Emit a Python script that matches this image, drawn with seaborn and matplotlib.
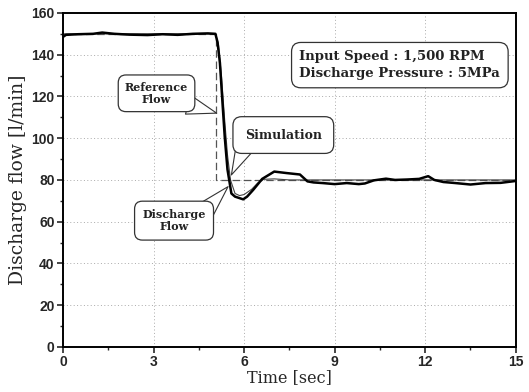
import matplotlib
matplotlib.use("Agg")
import matplotlib.pyplot as plt
import seaborn as sns
import pandas as pd
import numpy as np

# Measured discharge flow
t_dis = [0.0, 0.1, 0.5, 1.0, 1.3, 1.7, 2.2, 2.8, 3.3, 3.8, 4.3, 4.8, 5.05,
         5.12, 5.2, 5.28, 5.36, 5.45, 5.58, 5.7, 5.97, 6.1, 6.3, 6.6, 7.0,
         7.4, 7.85, 8.1, 8.3, 8.6, 9.0, 9.4, 9.8, 10.0, 10.3, 10.7, 11.0,
         11.4, 11.8, 12.1, 12.3, 12.6, 13.0, 13.5, 14.0, 14.5, 15.0]
q_dis = [148.5, 149.5, 149.8, 150.0, 150.6, 150.0, 149.6, 149.4, 149.8, 149.5,
         150.0, 150.2, 150.0,
         146.0, 136.0, 118.0, 100.5, 85.0, 73.5, 72.0, 70.7, 72.0, 75.2, 80.5,
         84.0, 83.3, 82.6, 79.3, 78.8, 78.5, 78.0, 78.5, 78.0, 78.3,
         79.8, 80.6, 80.0, 80.2, 80.5, 81.8, 80.0, 79.0, 78.5, 77.8, 78.5,
         78.6, 79.5]

# Simulation
t_sim = [0.0, 5.05, 5.15, 5.25, 5.35, 5.45, 5.55, 5.7, 5.85, 6.0, 6.25, 6.45,
         6.65, 7.0, 7.5, 15.0]
q_sim = [150.0, 150.0, 145.0, 130.0, 110.0, 92.0, 80.0, 73.5, 72.5, 73.0, 75.5,
         78.5, 80.3, 80.5, 80.0, 80.0]

# Reference flow
t_ref = [0.0, 5.07, 5.07, 15.0]
q_ref = [150.0, 150.0, 80.0, 80.0]

x_ticks = [0, 3, 6, 9, 12, 15]
y_ticks = [0, 20, 40, 60, 80, 100, 120, 140, 160]

sns.set_style("ticks")
fig = plt.figure(figsize=(5.29, 3.92), dpi=100)
ax = fig.add_axes([0.119, 0.115, 0.856, 0.852])

ax.grid(True, which="major", color="#aaaaaa", linestyle=(0, (1, 2.5)), linewidth=0.7)

df_ref = pd.DataFrame({"t": t_ref, "q": q_ref})
df_sim = pd.DataFrame({"t": t_sim, "q": q_sim})
df_dis = pd.DataFrame({"t": t_dis, "q": q_dis})

sns.lineplot(data=df_ref, x="t", y="q", ax=ax, color="#555555", linewidth=0.9,
             sort=False, estimator=None)
ax.lines[-1].set_dashes([6, 3])
sns.lineplot(data=df_sim, x="t", y="q", ax=ax, color="#444444", linewidth=0.8,
             sort=False, estimator=None)
sns.lineplot(data=df_dis, x="t", y="q", ax=ax, color="black", linewidth=1.8,
             sort=False, estimator=None)

ax.set_xlim(0, 15)
ax.set_ylim(0, 160)
ax.set_xticks(x_ticks)
ax.set_yticks(y_ticks)
ax.set_xticks(np.arange(0, 15.01, 1.5), minor=True)
ax.set_yticks(np.arange(0, 160.1, 10), minor=True)
ax.tick_params(axis="both", which="major", direction="out", length=4, width=1.2,
               labelsize=10, pad=2)
ax.tick_params(axis="both", which="minor", direction="out", length=2.5, width=1.0)
for lab in ax.get_xticklabels() + ax.get_yticklabels():
    lab.set_fontweight("bold")
    lab.set_family("Liberation Sans")
for s in ax.spines.values():
    s.set_visible(True)
    s.set_linewidth(1.4)
    s.set_color("black")

ax.set_xlabel("Time [sec]", family="DejaVu Serif", fontsize=11.5, labelpad=0)
ax.set_ylabel("Discharge flow [l/min]", family="DejaVu Serif", fontsize=13.5, labelpad=3)

font = dict(family="DejaVu Serif", fontweight="bold", color="#222222")

def box(pad):
    return dict(boxstyle=f"round,pad={pad},rounding_size=0.7", fc="white",
                ec="#333333", lw=0.9)

def pointer(base, tip):
    ax.annotate("", xy=tip, xytext=base, zorder=4,
                arrowprops=dict(arrowstyle="wedge,tail_width=1.0,shrink_factor=0.5",
                                fc="white", ec="#333333", lw=0.8, shrinkA=0,
                                shrinkB=0, mutation_scale=14))

pointer((4.15, 116.0), (5.09, 112))
pointer((6.05, 96.5), (5.58, 82.4))
pointer((4.70, 65.0), (5.47, 76.8))

ax.text(3.1, 121.5, "Reference\nFlow", ha="center", va="center", fontsize=8,
        bbox=box(0.6), zorder=5, linespacing=1.15, **font)
ax.text(7.3, 101.5, "Simulation", ha="center", va="center", fontsize=9,
        bbox=box(0.95), zorder=5, **font)
ax.text(3.68, 60.5, "Discharge\nFlow", ha="center", va="center", fontsize=8,
        bbox=box(0.7), zorder=5, linespacing=1.15, **font)
ax.text(11.16, 135, "Input Speed : 1,500 RPM\nDischarge Pressure : 5MPa",
        ha="center", va="center", fontsize=9.5, linespacing=1.35,
        bbox=box(0.6), zorder=5, multialignment="left", **font)

fig.savefig("out.png", dpi=100)
